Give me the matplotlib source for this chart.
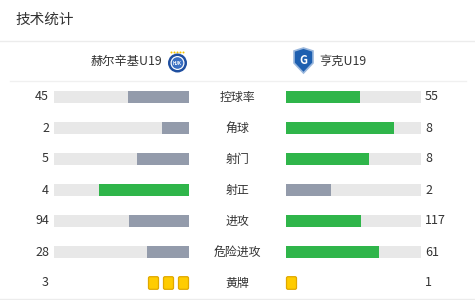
import matplotlib
matplotlib.use('Agg')
import matplotlib.pyplot as plt
from matplotlib.patches import FancyBboxPatch, Circle, Polygon

plt.rcParams['font.family'] = ['Noto Sans CJK SC', 'DejaVu Sans']

home_team = '赫尔辛基U19'
away_team = '亨克U19'
categories = ['控球率', '角球', '射门', '射正', '进攻', '危险进攻', '黄牌']
home_vals = [45, 2, 5, 4, 94, 28, 3]
away_vals = [55, 8, 8, 2, 117, 61, 1]

GREEN = '#2fb54a'
GREY = '#939bab'
TRACK = '#e8e8e8'
TEXT = '#333333'
YEL = '#ffcc00'
YEL_EDGE = '#e0a800'

fig = plt.figure(figsize=(4.75, 3.0), dpi=100)
ax = fig.add_axes([0, 0, 1, 1])
ax.set_xlim(0, 475)
ax.set_ylim(300, 0)
ax.axis('off')

# header
ax.text(15, 20, '技术统计', fontsize=10.5, color=TEXT, va='center', ha='left')
ax.plot([0, 475], [40.5, 40.5], color='#ececec', lw=1)
ax.plot([10, 466], [81, 81], color='#f0f0f0', lw=1)
ax.plot([0, 475], [298.5, 298.5], color='#ececec', lw=1)

ax.text(162, 61, home_team, fontsize=8.8, color=TEXT, va='center', ha='right')
ax.text(319, 61, away_team, fontsize=8.8, color=TEXT, va='center', ha='left')

# home badge (rough)
for dx in (-6, -3, 0, 3, 6):
    ax.add_patch(Circle((177.5 + dx, 52.5), 1.0, color='#f5c400', lw=0))
ax.add_patch(Circle((177.5, 63), 9.5, color='#1f4fa0', lw=0))
ax.add_patch(Circle((177.5, 63), 7.0, color='white', lw=0))
ax.add_patch(Circle((177.5, 63), 5.8, color='#3a6fc2', lw=0))
ax.text(177.5, 63.3, 'HJK', fontsize=3.2, color='white', ha='center', va='center',
        fontweight='bold')

# away badge (rough shield)
shield = [(294, 51), (303.5, 48), (313, 51), (313, 63), (303.5, 73), (294, 63)]
ax.add_patch(Polygon(shield, closed=True, fc='#1d5fb0', ec='#9bb8dd', lw=1.2))
ax.text(303.5, 60, 'G', fontsize=8, color='white', ha='center', va='center',
        fontweight='bold')

# rows
row_y0 = 97
row_step = 31
bar_h = 12
L0, L1 = 54, 189
R0, R1 = 286, 421
W = L1 - L0


def card(x, y):
    ax.add_patch(FancyBboxPatch((x, y - 6.3), 10, 12.6,
                                boxstyle='round,pad=0,rounding_size=1.5',
                                fc=YEL, ec=YEL_EDGE, lw=0.9))


for i, (cat, h, a) in enumerate(zip(categories, home_vals, away_vals)):
    y = row_y0 + i * row_step
    ax.text(49, y, str(h), fontsize=9, color=TEXT, ha='right', va='center')
    ax.text(425, y, str(a), fontsize=9, color=TEXT, ha='left', va='center')
    ax.text(237, y, cat, fontsize=8.6, color=TEXT, ha='center', va='center')
    if cat == '黄牌':
        for k in range(h):
            card(L1 - 10.5 - k * 15, y)
        for k in range(a):
            card(R0 + 0.5 + k * 15, y)
        continue
    tot = h + a
    hw = W * h / tot
    aw = W * a / tot
    hc = GREEN if h > a else GREY
    ac = GREEN if a > h else GREY
    ax.barh(y, W, left=L0, height=bar_h, color=TRACK, lw=0)
    ax.barh(y, hw, left=L1 - hw, height=bar_h, color=hc, lw=0)
    ax.barh(y, W, left=R0, height=bar_h, color=TRACK, lw=0)
    ax.barh(y, aw, left=R0, height=bar_h, color=ac, lw=0)

fig.savefig('out.png', dpi=100, facecolor='white')
